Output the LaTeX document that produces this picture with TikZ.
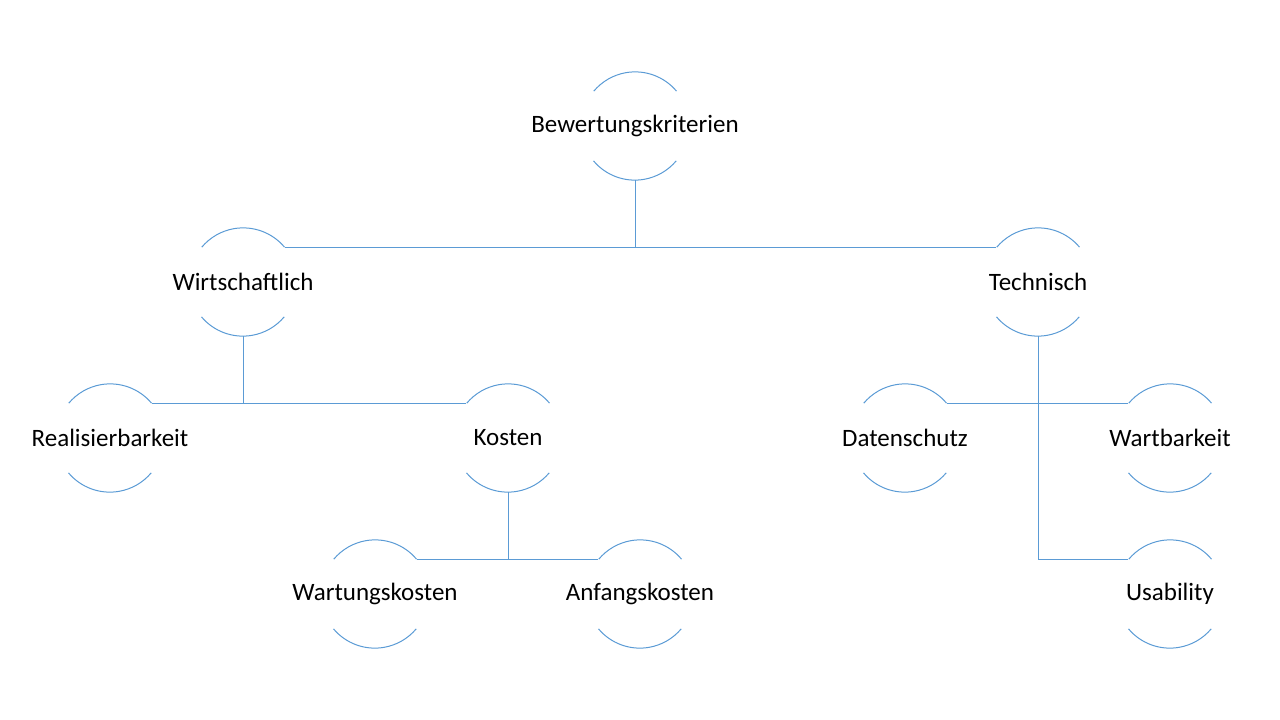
\documentclass[tikz,border=0pt]{standalone}
\usepackage{fontspec}
\setmainfont{Carlito}
\definecolor{linienblau}{HTML}{5B9BD5}
\tikzset{
  kreis/.style={circle, inner sep=0pt, minimum size=108pt,
    label={[font=\fontsize{25}{30}\selectfont]center:#1}},
  linie/.style={draw=linienblau, line width=1pt}
}

\begin{document}
\begin{tikzpicture}[x=1pt, y=1pt]
  \useasboundingbox (0,0) rectangle (1280,-720);
  % Knoten
  \node[kreis=Bewertungskriterien] (root) at (635,-126) {};
  \node[kreis=Wirtschaftlich] (wirt) at (243,-282) {};
  \node[kreis=Technisch] (tech) at (1038,-282) {};
  \node[kreis=Realisierbarkeit] (real) at (110,-438) {};
  \node[kreis=Kosten] (kost) at (508,-438) {};
  \node[kreis=Wartungskosten] (wart) at (375,-594) {};
  \node[kreis=Anfangskosten] (anf) at (640,-594) {};
  \node[kreis=Datenschutz] (daten) at (905,-438) {};
  \node[kreis=Wartbarkeit] (wartb) at (1170,-438) {};
  \node[kreis=Usability] (usab) at (1170,-594) {};
  % Boegen
  \foreach \n in {root,wirt,tech,real,kost,wart,anf,daten,wartb,usab}
    \draw[linie] (\n.40) arc[start angle=40, end angle=140, radius=54]
                 (\n.220) arc[start angle=220, end angle=320, radius=54];
  % Verbindungen
  \draw[linie] (root.south) -- (root.south |- wirt.40);
  \draw[linie] (wirt.40) -- (tech.140);
  \draw[linie] (wirt.south) -- (wirt.south |- real.40);
  \draw[linie] (real.40) -- (kost.140);
  \draw[linie] (kost.south) -- (kost.south |- wart.40);
  \draw[linie] (wart.40) -- (anf.140);
  \draw[linie] (daten.40) -- (wartb.140);
  \draw[linie] (tech.south) |- (usab.140);
\end{tikzpicture}
\end{document}
